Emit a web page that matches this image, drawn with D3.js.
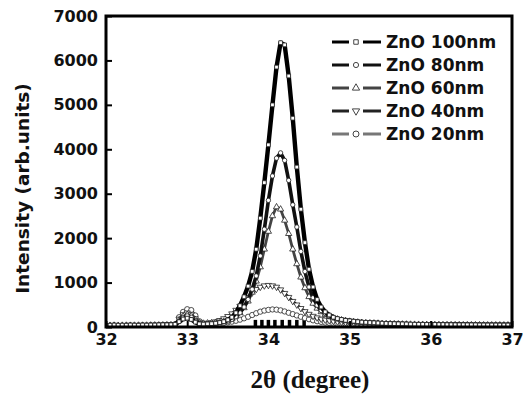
<!DOCTYPE html>
<html>
<head>
<meta charset="utf-8">
<script src="https://cdn.jsdelivr.net/npm/d3@7"></script>
<style>
  body { margin: 0; background: #fff; }
  .tick text { font-family: "DejaVu Sans", Verdana, sans-serif; font-weight: bold; font-size: 16px; fill: #111; }
</style>
</head>
<body>
<svg id="chart" width="526" height="399"></svg>
<script>
// 2theta grid (degree)
var twoTheta = [32.00,32.05,32.10,32.15,32.20,32.25,32.30,32.35,32.40,32.45,
  32.50,32.55,32.60,32.65,32.70,32.75,32.80,32.85,32.90,32.95,
  33.00,33.05,33.10,33.15,33.20,33.25,33.30,33.35,33.40,33.45,
  33.50,33.55,33.60,33.65,33.70,33.75,33.80,33.85,33.90,33.95,
  34.00,34.05,34.10,34.15,34.20,34.25,34.30,34.35,34.40,34.45,
  34.50,34.55,34.60,34.65,34.70,34.75,34.80,34.85,34.90,34.95,
  35.00,35.05,35.10,35.15,35.20,35.25,35.30,35.35,35.40,35.45,
  35.50,35.55,35.60,35.65,35.70,35.75,35.80,35.85,35.90,35.95,
  36.00,36.05,36.10,36.15,36.20,36.25,36.30,36.35,36.40,36.45,
  36.50,36.55,36.60,36.65,36.70,36.75,36.80,36.85,36.90,36.95,37.00];

var zno100 = [40,40,45,40,42,40,45,42,40,45, 42,45,45,48,50,50,52,60,120,180,
  200,170,110,70,65,70,75,85,100,120,
  160,220,320,480,680,920,1250,1750,2450,3250,
  4100,5000,5850,6400,6350,5650,4700,3600,2650,1900,
  1300,900,620,450,340,270,220,190,170,150,
  140,130,120,110,105,100,95,90,85,80,
  78,75,72,70,68,65,62,60,60,58,
  60,58,55,55,52,52,50,50,50,48,
  48,48,46,46,45,45,45,44,44,44,44];

var zno80 = [35,38,40,36,38,40,38,40,42,40, 40,42,44,45,45,48,50,55,130,210,
  250,220,140,80,70,75,80,90,100,115,
  130,170,230,320,450,620,850,1150,1600,2200,
  2850,3400,3800,3920,3750,3300,2750,2250,1700,1250,
  900,660,490,370,300,245,210,185,165,150,
  135,125,115,108,100,95,90,85,80,78,
  75,72,70,68,65,62,60,58,56,55,
  56,54,52,52,50,50,48,48,47,46,
  46,45,45,44,44,43,43,42,42,42,42];

var zno60 = [30,32,35,32,34,35,33,35,36,35, 36,38,40,40,42,44,46,52,150,240,
  280,250,160,90,80,85,90,100,110,125,
  140,180,240,320,430,580,780,1030,1350,1750,
  2150,2500,2700,2650,2400,2100,1750,1420,1120,880,
  680,530,420,340,280,235,200,175,155,140,
  125,115,105,98,92,88,84,80,76,72,
  70,68,65,62,60,58,56,55,54,52,
  52,50,50,48,48,47,46,46,45,45,
  44,44,43,43,42,42,42,41,41,41,40];

var zno40 = [30,30,32,30,32,33,32,34,33,35, 35,36,38,38,40,42,45,55,180,280,
  320,290,190,110,80,90,100,120,150,190,
  240,300,380,470,570,670,770,850,900,930,
  940,930,900,840,760,670,580,500,420,350,
  290,245,210,180,160,145,130,120,110,100,
  95,90,85,82,78,75,72,70,68,66,
  64,62,60,58,56,55,54,53,52,50,
  60,50,48,48,47,46,45,45,44,44,
  43,43,42,42,41,41,40,40,40,40,40];

var zno20 = [28,30,30,28,30,32,30,32,32,33, 34,35,36,36,38,40,42,60,220,340,
  400,380,260,130,75,70,70,75,80,90,
  105,120,140,165,195,230,270,310,345,370,
  385,395,390,375,350,320,290,260,230,200,
  175,150,130,115,100,90,80,75,70,66,
  63,60,58,56,55,54,53,52,51,50,
  50,49,48,48,47,47,46,46,45,45,
  45,44,44,44,43,43,43,42,42,42,
  42,41,41,41,40,40,40,40,40,40,40];

// short black reference bars sitting on the baseline
var stickX = [33.84, 33.92, 34.00, 34.08, 34.17, 34.26, 34.35, 34.44, 36.00];
var stickY = [160, 160, 160, 160, 160, 160, 160, 160, 110];

var seriesNames = ["ZnO 100nm", "ZnO 80nm", "ZnO 60nm", "ZnO 40nm", "ZnO 20nm"];
var xTicks = [32, 33, 34, 35, 36, 37];
var yTicks = [0, 1000, 2000, 3000, 4000, 5000, 6000, 7000];

var margin = {top: 16, right: 14, bottom: 72, left: 106},
    width = 526 - margin.left - margin.right,
    height = 399 - margin.top - margin.bottom;

var svg = d3.select("#chart");
var g = svg.append("g").attr("transform", "translate(" + margin.left + "," + margin.top + ")");

var x = d3.scaleLinear().domain([32, 37]).range([0, width]);
var y = d3.scaleLinear().domain([0, 7000]).range([height, 0]);

// style per series
var styles = [
  {data: zno100, color: "#000", lw: 4.4, sym: d3.symbolSquare, size: 14},
  {data: zno80,  color: "#111", lw: 3.6, sym: d3.symbolCircle, size: 15},
  {data: zno60,  color: "#444", lw: 2.8, sym: d3.symbolTriangle, size: 17},
  {data: zno40,  color: "#222", lw: 2.8, sym: d3.symbolTriangle, size: 17, rot: 180},
  {data: zno20,  color: "#777", lw: 2.4, sym: d3.symbolCircle, size: 22}
];

g.append("clipPath").attr("id", "clip")
  .append("rect").attr("width", width).attr("height", height);

var plot = g.append("g").attr("clip-path", "url(#clip)");

// baseline sticks
plot.selectAll(".stick")
  .data(stickX)
  .enter().append("rect")
    .attr("class", "stick")
    .attr("x", function(d) { return x(d) - 1.75; })
    .attr("width", 3.5)
    .attr("y", function(d, i) { return y(stickY[i]); })
    .attr("height", function(d, i) { return height - y(stickY[i]); })
    .attr("fill", "#000");

var line = d3.line()
  .x(function(d) { return x(d[0]); })
  .y(function(d) { return y(d[1]); });

// draw from the smallest upward so 100nm sits on top
styles.slice().reverse().forEach(function(s) {
  var pts = twoTheta.map(function(t, i) { return [t, s.data[i]]; });
  plot.append("path")
    .datum(pts)
    .attr("d", line)
    .attr("fill", "none")
    .attr("stroke", s.color)
    .attr("stroke-width", s.lw)
    .attr("stroke-linejoin", "round");

  plot.selectAll(null)
    .data(pts)
    .enter().append("path")
      .attr("d", d3.symbol().type(s.sym).size(s.size))
      .attr("transform", function(d) {
        return "translate(" + x(d[0]) + "," + y(d[1]) + ")" + (s.rot ? " rotate(" + s.rot + ")" : "");
      })
      .attr("fill", "#fff")
      .attr("stroke", "#222")
      .attr("stroke-width", 0.8);
});

// axes
var yAxis = d3.axisLeft(y).tickValues(yTicks).tickSize(-6).tickPadding(8).tickFormat(d3.format("d"));
g.append("g").call(yAxis).call(function(a) {
  a.select(".domain").remove();
  a.selectAll("line").attr("stroke", "#000").attr("stroke-width", 2);
});

var xAxis = d3.axisBottom(x).tickValues(xTicks).tickSize(-6).tickPadding(7).tickFormat(d3.format("d"));
g.append("g").attr("transform", "translate(0," + height + ")").call(xAxis).call(function(a) {
  a.select(".domain").remove();
  a.selectAll("line").attr("stroke", "#000").attr("stroke-width", 2);
});

// frame
g.append("rect")
  .attr("width", width).attr("height", height)
  .attr("fill", "none").attr("stroke", "#000").attr("stroke-width", 3);

// axis titles
svg.append("text")
  .attr("transform", "translate(29," + (margin.top + height / 2 + 17) + ") rotate(-90)")
  .attr("text-anchor", "middle")
  .style("font-family", "'DejaVu Sans', Verdana, sans-serif")
  .style("font-weight", "bold")
  .style("font-size", "18.5px")
  .attr("fill", "#111")
  .text("Intensity (arb.units)");

svg.append("text")
  .attr("x", 310).attr("y", 388)
  .attr("text-anchor", "middle")
  .style("font-family", "'Liberation Serif', 'Times New Roman', serif")
  .style("font-weight", "bold")
  .style("font-size", "25px")
  .attr("fill", "#111")
  .text("2\u03b8 (degree)");

// legend
var legend = svg.append("g").attr("transform", "translate(332,42)");
styles.forEach(function(s, i) {
  var row = legend.append("g").attr("transform", "translate(0," + (i * 23) + ")");
  row.append("line").attr("x1", 0).attr("x2", 17).attr("stroke", s.color).attr("stroke-width", 3);
  row.append("line").attr("x1", 31).attr("x2", 49).attr("stroke", s.color).attr("stroke-width", 3);
  row.append("path")
    .attr("d", d3.symbol().type(s.sym).size(s.size + 6))
    .attr("transform", "translate(24,0)" + (s.rot ? " rotate(" + s.rot + ")" : ""))
    .attr("fill", "#fff").attr("stroke", "#444").attr("stroke-width", 1);
  row.append("text")
    .attr("x", 54).attr("y", 6)
    .style("font-family", "'DejaVu Sans', Verdana, sans-serif")
    .style("font-weight", "bold")
    .style("font-size", "17px")
    .attr("fill", "#111")
    .text(seriesNames[i]);
});
</script>
</body>
</html>
